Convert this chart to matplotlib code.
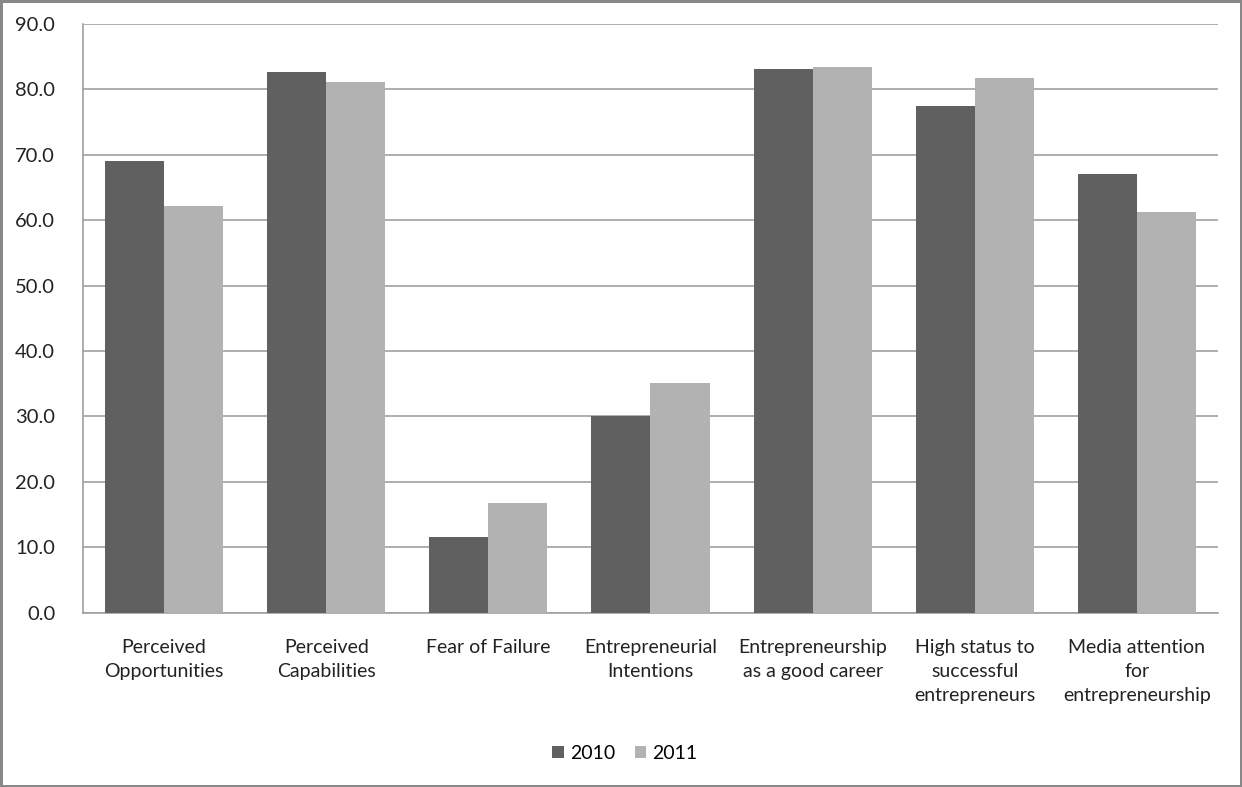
import numpy as np
import matplotlib
matplotlib.use("Agg")
import matplotlib.pyplot as plt

categories = ["Perceived\nOpportunities", "Perceived\nCapabilities", "Fear of Failure",
              "Entrepreneurial\nIntentions", "Entrepreneurship\nas a good career",
              "High status to\nsuccessful\nentrepreneurs", "Media attention\nfor\nentrepreneurship"]
vals_2010 = [69.1, 82.6, 11.5, 30.1, 83.1, 77.4, 67.0]
vals_2011 = [62.1, 81.1, 16.7, 35.1, 83.4, 81.7, 61.3]
yticks = [0, 10, 20, 30, 40, 50, 60, 70, 80, 90]

plt.rcParams["font.family"] = ["Lato", "DejaVu Sans"]

fig = plt.figure(figsize=(12.42, 7.87), dpi=100)
fig.patch.set_edgecolor("#888888")
fig.patch.set_linewidth(2.5)
ax = fig.add_axes([0.0668, 0.2215, 0.9139, 0.748])

x = np.arange(len(categories))
w = 0.364
ax.bar(x - w / 2, vals_2010, w, color="#606060", label="2010", zorder=3)
ax.bar(x + w / 2, vals_2011, w, color="#b2b2b2", label="2011", zorder=3)

ax.set_xlim(-0.5, len(categories) - 0.5)
ax.set_ylim(0, 90)
ax.set_yticks(yticks)
ax.set_yticklabels([f"{v:.1f}" for v in yticks], fontsize=14.5)
ax.set_xticks(x)
ax.set_xticklabels(categories, fontsize=14, va="top", linespacing=1.5)
ax.tick_params(axis="both", length=0, colors="#222222")
ax.tick_params(axis="x", pad=19)
ax.tick_params(axis="y", pad=20)
ax.grid(axis="y", color="#a0a0a0", linewidth=1.2, zorder=0)
for s in ["top", "right"]:
    ax.spines[s].set_visible(False)
ax.spines["left"].set_color("#a0a0a0")
ax.spines["bottom"].set_color("#a0a0a0")
ax.spines["left"].set_linewidth(1.2)
ax.spines["bottom"].set_linewidth(1.2)

fig.legend(loc="center", bbox_to_anchor=(0.503, 0.043), ncol=2, frameon=False,
           fontsize=14, handlelength=0.6, handleheight=0.6, handletextpad=0.3,
           columnspacing=1.0)

fig.savefig("out.png", dpi=100, edgecolor=fig.get_edgecolor())
